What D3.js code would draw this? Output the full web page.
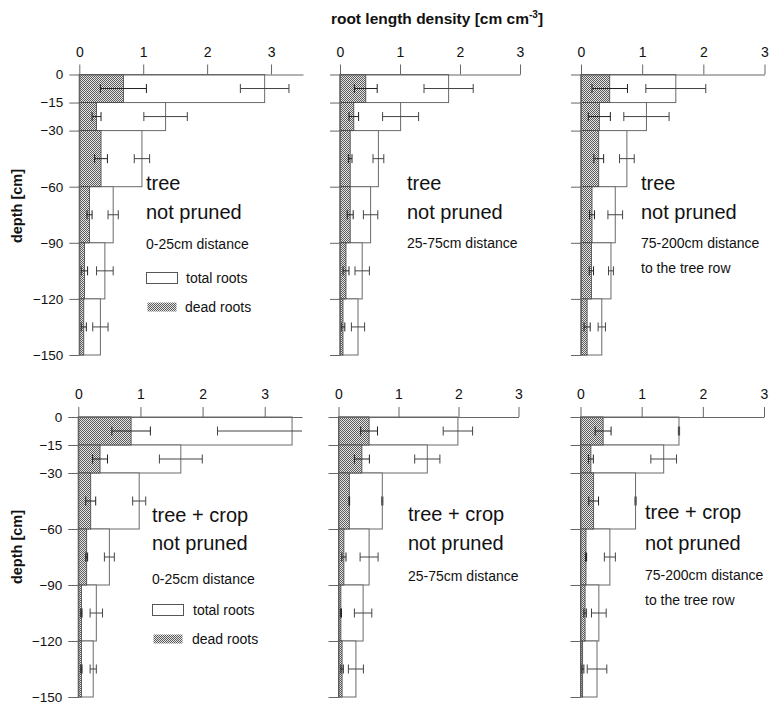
<!DOCTYPE html>
<html>
<head>
<meta charset="utf-8">
<script src="https://cdn.jsdelivr.net/npm/d3@7"></script>
<style>
  html, body { margin: 0; padding: 0; background: #fff; }
  svg { display: block; font-family: "Liberation Sans", Arial, sans-serif; }
</style>
</head>
<body>
<svg id="chart" width="769" height="705"></svg>
<script>
// ---- data ----
const layerTop    = [0, 15, 30, 60, 90, 120];
const layerBottom = [15, 30, 60, 90, 120, 150];
const depthTicks  = [0, -15, -30, -60, -90, -120, -150];
const xTicks      = [0, 1, 2, 3];

// tree, not pruned, 0-25 cm
const treeNearTotal    = [2.90, 1.35, 0.98, 0.53, 0.40, 0.33];
const treeNearTotalErr = [0.38, 0.34, 0.12, 0.08, 0.13, 0.12];
const treeNearDead     = [0.69, 0.27, 0.34, 0.16, 0.08, 0.07];
const treeNearDeadErr  = [0.36, 0.07, 0.10, 0.04, 0.05, 0.04];
// tree, not pruned, 25-75 cm
const treeMidTotal     = [1.81, 1.01, 0.64, 0.51, 0.37, 0.30];
const treeMidTotalErr  = [0.41, 0.30, 0.09, 0.12, 0.12, 0.11];
const treeMidDead      = [0.43, 0.23, 0.17, 0.17, 0.10, 0.05];
const treeMidDeadErr   = [0.19, 0.08, 0.03, 0.05, 0.05, 0.03];
// tree, not pruned, 75-200 cm
const treeFarTotal     = [1.55, 1.07, 0.75, 0.56, 0.49, 0.34];
const treeFarTotalErr  = [0.49, 0.37, 0.12, 0.12, 0.04, 0.06];
const treeFarDead      = [0.47, 0.30, 0.29, 0.18, 0.17, 0.10];
const treeFarDeadErr   = [0.29, 0.18, 0.08, 0.04, 0.035, 0.05];
// tree + crop, not pruned, 0-25 cm
const cropNearTotal    = [3.44, 1.65, 0.98, 0.50, 0.29, 0.24];
const cropNearTotalErr = [1.20, 0.345, 0.105, 0.08, 0.10, 0.05];
const cropNearDead     = [0.85, 0.35, 0.20, 0.135, 0.05, 0.05];
const cropNearDeadErr  = [0.31, 0.12, 0.08, 0.015, 0.01, 0.01];
// tree + crop, not pruned, 25-75 cm
const cropMidTotal     = [1.99, 1.48, 0.73, 0.51, 0.41, 0.29];
const cropMidTotalErr  = [0.245, 0.21, 0.01, 0.15, 0.145, 0.125];
const cropMidDead      = [0.51, 0.39, 0.18, 0.09, 0.04, 0.06];
const cropMidDeadErr   = [0.14, 0.125, 0.005, 0.035, 0.01, 0.02];
// tree + crop, not pruned, 75-200 cm
const cropFarTotal     = [1.61, 1.36, 0.90, 0.48, 0.30, 0.27];
const cropFarTotalErr  = [0.01, 0.21, 0.01, 0.09, 0.12, 0.16];
const cropFarDead      = [0.37, 0.17, 0.215, 0.09, 0.075, 0.035];
const cropFarDeadErr   = [0.13, 0.04, 0.08, 0.01, 0.02, 0.02];

const titleText   = "root length density [cm cm";
const titleSup    = "-3";
const yTitle      = "depth [cm]";
const legendTotal = "total roots";
const legendDead  = "dead roots";

// ---- layout ----
const panels = [
  { total: treeNearTotal, totalErr: treeNearTotalErr, dead: treeNearDead, deadErr: treeNearDeadErr,
    xr: [79.3, 303], xmax: 3.5, yr: [74.5, 355], labelsY: true,
    texts: [["tree", 146, 190, 20], ["not pruned", 146, 219, 20], ["0-25cm distance", 146, 249, 14]],
    legend: { x: 146.5, y1: 272.5, y2: 302, tx: 186 } },
  { total: treeMidTotal, totalErr: treeMidTotalErr, dead: treeMidDead, deadErr: treeMidDeadErr,
    xr: [340, 520], xmax: 3, yr: [74.5, 355], labelsY: false,
    texts: [["tree", 407, 190, 20], ["not pruned", 407, 218.5, 20], ["25-75cm distance", 407, 248, 14]] },
  { total: treeFarTotal, totalErr: treeFarTotalErr, dead: treeFarDead, deadErr: treeFarDeadErr,
    xr: [581, 764.5], xmax: 3, yr: [74.5, 355], labelsY: false,
    texts: [["tree", 641, 190, 20], ["not pruned", 641, 219, 20], ["75-200cm distance", 641, 248, 14], ["to the tree row", 641, 273, 14]] },
  { total: cropNearTotal, totalErr: cropNearTotalErr, dead: cropNearDead, deadErr: cropNearDeadErr,
    xr: [78.3, 302], xmax: 3.6, yr: [417, 697], labelsY: true,
    texts: [["tree + crop", 152, 521.5, 20], ["not pruned", 152, 550, 20], ["0-25cm distance", 152, 584, 14]],
    legend: { x: 152.5, y1: 604.5, y2: 633.5, tx: 193 } },
  { total: cropMidTotal, totalErr: cropMidTotalErr, dead: cropMidDead, deadErr: cropMidDeadErr,
    xr: [338.5, 518.5], xmax: 3, yr: [417, 697], labelsY: false,
    texts: [["tree + crop", 408, 520.5, 20], ["not pruned", 408, 550, 20], ["25-75cm distance", 408, 580.5, 14]] },
  { total: cropFarTotal, totalErr: cropFarTotalErr, dead: cropFarDead, deadErr: cropFarDeadErr,
    xr: [580.5, 764], xmax: 3, yr: [417, 697], labelsY: false,
    texts: [["tree + crop", 645, 519, 20], ["not pruned", 645, 550, 20], ["75-200cm distance", 645, 580, 14], ["to the tree row", 645, 605, 14]] }
];

const svg = d3.select("#chart");
const defs = svg.append("defs");
const pat = defs.append("pattern").attr("id", "dead").attr("patternUnits", "userSpaceOnUse")
  .attr("width", 2).attr("height", 2);
pat.append("rect").attr("width", 2).attr("height", 2).attr("fill", "#e4e4e4");
pat.append("rect").attr("x", 0).attr("y", 0).attr("width", 1).attr("height", 1).attr("fill", "#5c5c5c");
pat.append("rect").attr("x", 1).attr("y", 1).attr("width", 1).attr("height", 1).attr("fill", "#5c5c5c");

// title
const t = svg.append("text").attr("x", 437).attr("y", 24).attr("text-anchor", "middle")
  .attr("font-size", 15.5).attr("font-weight", "bold").attr("fill", "#111");
t.append("tspan").text(titleText);
t.append("tspan").attr("font-size", 10).attr("dy", -6).text(titleSup);
t.append("tspan").attr("dy", 6).text("]");

const yTitleCenters = [206, 547];
yTitleCenters.forEach(cy => {
  svg.append("text").attr("transform", `translate(22,${cy}) rotate(-90)`)
    .attr("text-anchor", "middle").attr("font-size", 14.5).attr("font-weight", "bold")
    .attr("fill", "#111").text(yTitle);
});

panels.forEach(p => {
  const x = d3.scaleLinear().domain([0, p.xmax]).range(p.xr);
  const y = d3.scaleLinear().domain([0, -150]).range(p.yr);
  const g = svg.append("g");
  const rows = layerTop.map((tp, i) => ({
    top: tp, bottom: layerBottom[i],
    total: p.total[i], totalErr: p.totalErr[i], dead: p.dead[i], deadErr: p.deadErr[i]
  }));
  const xEnd = p.xr[1];

  // total bars
  g.selectAll("rect.total").data(rows).join("rect").attr("class", "total")
    .attr("x", x(0)).attr("y", d => y(-d.top))
    .attr("width", d => x(d.total) - x(0)).attr("height", d => y(-d.bottom) - y(-d.top))
    .attr("fill", "#fff").attr("stroke", "#6a6a6a").attr("stroke-width", 1);

  function errBars(key, ekey, color) {
    rows.forEach(d => {
      const cy = (y(-d.top) + y(-d.bottom)) / 2;
      const lo = x(d[key] - d[ekey]);
      const hiRaw = x(d[key] + d[ekey]);
      const hi = Math.min(hiRaw, xEnd);
      g.append("line").attr("x1", lo).attr("x2", hi).attr("y1", cy).attr("y2", cy)
        .attr("stroke", color).attr("stroke-width", 1);
      g.append("line").attr("x1", lo).attr("x2", lo).attr("y1", cy - 4.5).attr("y2", cy + 4.5)
        .attr("stroke", color).attr("stroke-width", 1);
      if (hiRaw <= xEnd) {
        g.append("line").attr("x1", hi).attr("x2", hi).attr("y1", cy - 4.5).attr("y2", cy + 4.5)
          .attr("stroke", color).attr("stroke-width", 1);
      }
    });
  }
  errBars("total", "totalErr", "#444");

  // dead bars
  g.selectAll("rect.dead").data(rows).join("rect").attr("class", "dead")
    .attr("x", x(0)).attr("y", d => y(-d.top))
    .attr("width", d => x(d.dead) - x(0)).attr("height", d => y(-d.bottom) - y(-d.top))
    .attr("fill", "url(#dead)").attr("stroke", "#444").attr("stroke-width", 0.8);
  errBars("dead", "deadErr", "#222");

  // axes
  const xa = g.append("g").attr("transform", `translate(0,${p.yr[0]})`)
    .call(d3.axisTop(x).tickValues(xTicks).tickSize(10).tickSizeOuter(0).tickPadding(8).tickFormat(d3.format("d")));
  xa.select(".domain").attr("stroke", "#666");
  xa.selectAll(".tick line").attr("stroke", "#666");
  xa.selectAll("text").attr("font-size", 14).attr("fill", "#111").attr("font-family", "Liberation Sans, Arial, sans-serif");

  const ya = g.append("g").attr("transform", `translate(${p.xr[0]},0)`)
    .call(d3.axisLeft(y).tickValues(depthTicks).tickSize(10).tickSizeOuter(0).tickPadding(6)
      .tickFormat(p.labelsY ? d3.format("d") : () => ""));
  ya.select(".domain").attr("stroke", "#666");
  ya.selectAll(".tick line").attr("stroke", "#666");
  ya.selectAll("text").attr("font-size", 13.5).attr("fill", "#111").attr("font-family", "Liberation Sans, Arial, sans-serif");

  // annotation texts
  p.texts.forEach(([s, tx, ty, fs]) => {
    g.append("text").attr("x", tx).attr("y", ty).attr("font-size", fs).attr("fill", "#111").text(s);
  });

  if (p.legend) {
    const L = p.legend;
    g.append("rect").attr("x", L.x).attr("y", L.y1).attr("width", 31).attr("height", 11)
      .attr("fill", "#fff").attr("stroke", "#555");
    g.append("text").attr("x", L.tx).attr("y", L.y1 + 10).attr("font-size", 14).attr("fill", "#111").text(legendTotal);
    g.append("rect").attr("x", L.x + 1).attr("y", L.y1 + 30).attr("width", 29).attr("height", 9)
      .attr("fill", "url(#dead)").attr("stroke", "none");
    g.append("text").attr("x", L.tx - 1).attr("y", L.y1 + 39).attr("font-size", 14).attr("fill", "#111").text(legendDead);
  }
});
</script>
</body>
</html>
